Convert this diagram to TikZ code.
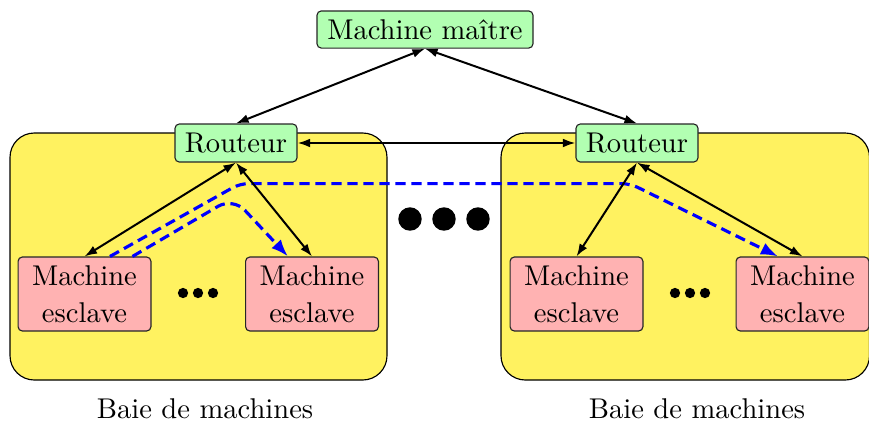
\documentclass[tikz,border=0pt]{standalone}
\usetikzlibrary{arrows.meta,calc}
\definecolor{baiecol}{RGB}{255,242,96}
\definecolor{vertcol}{RGB}{178,255,178}
\definecolor{rosecol}{RGB}{255,178,178}
\begin{document}
\begin{tikzpicture}[x=0.35pt,y=-0.35pt,
  box/.style={draw=black!85, line width=0.4pt, rounded corners=1.5pt, inner sep=0pt, align=center},
  maitre/.style={box, fill=vertcol, minimum width=75.6pt, minimum height=13pt},
  routeur/.style={box, fill=vertcol, minimum width=42.7pt, minimum height=13.3pt},
  esclave/.style={box, fill=rosecol, minimum width=46.5pt, minimum height=25.9pt},
  baie/.style={draw=black, line width=0.4pt, fill=baiecol, rounded corners=8.5pt},
  lien/.style={line width=0.7pt, {Latex[length=4.4pt,width=3.1pt]}-{Latex[length=4.4pt,width=3.1pt]}},
  chemin/.style={blue, line width=1.1pt, dash pattern=on 3.6pt off 2pt, rounded corners=3pt,
    -{Latex[length=6pt,width=4.5pt]}},
  point/.style={circle, fill=black, inner sep=0pt, minimum size=3.6pt},
  gros/.style={circle, fill=black, inner sep=0pt, minimum size=8.2pt}
]
\useasboundingbox (0,0) rectangle (869,424);
\clip (0,0) rectangle (869,424);

% machine bays
\draw[baie] (10,133) rectangle (387,380);
\draw[baie] (501,133) rectangle (869.5,380);
\node (legG) at (205,409) {Baie de machines};
\node (legD) at (697,409) {Baie de machines};

% master, routers and slaves
\node[maitre] (m) at (425,29.5) {Machine maître};
\node[routeur] (rG) at (236,143) {Routeur};
\node[routeur] (rD) at (637,143) {Routeur};
\node[esclave] (eG1) at (84.5,294) {Machine\\[1pt]esclave};
\node[esclave] (eG2) at (312,294) {Machine\\[1pt]esclave};
\node[esclave] (eD1) at (576.5,294) {Machine\\[1pt]esclave};
\node[esclave] (eD2) at (802.5,294) {Machine\\[1pt]esclave};

% ellipses
\node[point] (pG1) at (183,293) {};
\node[point] (pG2) at (198,293) {};
\node[point] (pG3) at (213,293) {};
\node[point] (pD1) at (675,293) {};
\node[point] (pD2) at (690,293) {};
\node[point] (pD3) at (705,293) {};
\node[gros] (g1) at (410,219) {};
\node[gros] (g2) at (444,219) {};
\node[gros] (g3) at (478,219) {};

% message paths
\draw[chemin] ($(eG1.north)+(25.5,0)$) -- ($(rG.south)+(4,21)$) -- ($(rD.south)+(-7,21)$)
  -- ($(eD2.north)+(-24.5,0)$);
\draw[chemin, rounded corners=6pt] ($(eG1.north)+(48,0)$) -- ($(rG.south)+(-3,35)$)
  -- ($(eG2.north)+(-24,0)$);

% links
\draw[lien] (m.south) -- (rG.north);
\draw[lien] (m.south) -- (rD.north);
\draw[lien] (rG.east) -- (rD.west);
\draw[lien] (rG.south) -- (eG1.north);
\draw[lien] (rG.south) -- (eG2.north);
\draw[lien] (rD.south) -- (eD1.north);
\draw[lien] (rD.south) -- (eD2.north);
\end{tikzpicture}
\end{document}
